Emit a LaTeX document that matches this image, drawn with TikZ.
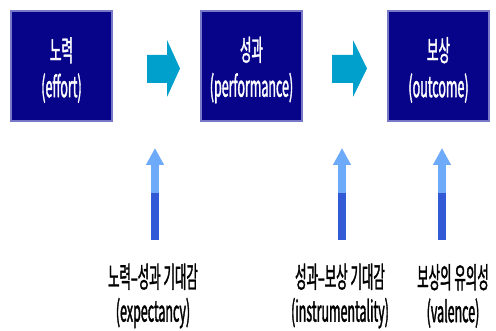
\documentclass[tikz,border=0pt]{standalone}
\usepackage{fontspec}
\setmainfont[FakeStretch=0.43,FakeBold=1.2]{Noto Sans CJK KR}
\usetikzlibrary{arrows.meta}
\definecolor{navy}{RGB}{8,4,138}
\definecolor{navyedge}{RGB}{120,120,200}
\definecolor{cyanarrow}{RGB}{0,160,205}
\definecolor{lightarrow}{RGB}{110,170,250}
\definecolor{darkarrow}{RGB}{50,90,215}
\tikzset{
  stagebox/.style={fill=navy, draw=navyedge, line width=1.5pt, minimum width=101pt, minimum height=110pt, inner sep=0pt},
  stagetext/.style={text=white, align=center, inner sep=0pt, font=\fontsize{29}{36}\selectfont},
  factorlabel/.style={align=center, text=black, font=\fontsize{29}{34}\selectfont, inner sep=0pt},
  blockarrow/.style={fill=cyanarrow},
  upshaft/.style={line width=8pt, draw=lightarrow, -{Triangle[width=17pt,length=17pt]}},
  uplower/.style={line width=8pt, draw=darkarrow}
}
\begin{document}
\begin{tikzpicture}[x=1pt,y=-1pt]
\useasboundingbox (0,0) rectangle (496,331);
\node[stagebox] (effort) at (61.5,66) {};
\node[stagebox] (perf) at (251.5,66) {};
\node[stagebox] (outc) at (438.5,66) {};
\node[stagetext] (efforttxt) at ([yshift=-4pt]effort.center) {노력\\(effort)};
\node[stagetext] (perftxt) at ([yshift=-4pt]perf.center) {성과\\(performance)};
\node[stagetext] (outctxt) at ([yshift=-4pt]outc.center) {보상\\(outcome)};
% block arrows
\fill[blockarrow] (147,55) -- (167,55) -- (167,40) -- (180,68.5) -- (167,97) -- (167,83) -- (147,83) -- cycle;
\fill[blockarrow] (332,55) -- (353,55) -- (353,40) -- (367,68.5) -- (353,97) -- (353,83) -- (332,83) -- cycle;
% labels
\node[factorlabel] (lab1) at (153,296) {노력–성과 기대감\\(expectancy)};
\node[factorlabel] (lab2) at (340,296) {성과–보상 기대감\\(instrumentality)};
\node[factorlabel] (lab3) at (453,296) {보상의 유의성\\(valence)};
% up arrows
\coordinate (b1) at (155,240); \coordinate (t1) at (155,148); \coordinate (m1) at (155,193);
\coordinate (b2) at (342,240); \coordinate (t2) at (342,148); \coordinate (m2) at (342,193);
\coordinate (b3) at (442,240); \coordinate (t3) at (442,148); \coordinate (m3) at (442,193);
\foreach \i in {1,2,3}{
  \draw[upshaft] (b\i) -- (t\i);
  \draw[uplower] (b\i) -- (m\i);
}
\end{tikzpicture}
\end{document}
